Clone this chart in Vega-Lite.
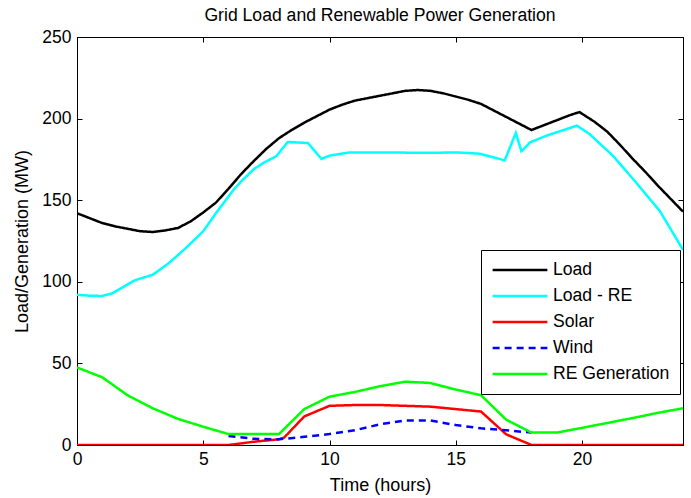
{
  "$schema": "https://vega.github.io/schema/vega-lite/v6.json",
  "width": 606,
  "height": 408,
  "autosize": {"type": "none"},
  "padding": {"left": 77, "top": 37, "right": 8, "bottom": 53},
  "background": "white",
  "title": {"text": "Grid Load and Renewable Power Generation", "fontSize": 17.6, "fontWeight": "normal", "font": "Liberation Sans", "color": "black", "offset": 3},
  "config": {
    "view": {"stroke": "black", "strokeWidth": 1},
    "axis": {"grid": false, "domainColor": "black", "tickColor": "black", "labelColor": "black", "titleColor": "black", "labelFont": "Liberation Sans", "titleFont": "Liberation Sans", "labelFontSize": 17.5, "titleFontSize": 18, "titleFontWeight": "normal", "tickSize": -5, "labelFlush": false}
  },
  "data": {"values": [
    {"series": "Load", "hour": 0, "value": 142},
    {"series": "Load", "hour": 0.5, "value": 139},
    {"series": "Load", "hour": 1, "value": 136},
    {"series": "Load", "hour": 1.5, "value": 134},
    {"series": "Load", "hour": 2, "value": 132.5},
    {"series": "Load", "hour": 2.5, "value": 131},
    {"series": "Load", "hour": 3, "value": 130.5},
    {"series": "Load", "hour": 3.5, "value": 131.5},
    {"series": "Load", "hour": 4, "value": 133},
    {"series": "Load", "hour": 4.5, "value": 137},
    {"series": "Load", "hour": 5, "value": 142.5},
    {"series": "Load", "hour": 5.5, "value": 148.5},
    {"series": "Load", "hour": 6, "value": 157},
    {"series": "Load", "hour": 6.5, "value": 166},
    {"series": "Load", "hour": 7, "value": 174},
    {"series": "Load", "hour": 7.5, "value": 181.5},
    {"series": "Load", "hour": 8, "value": 188},
    {"series": "Load", "hour": 8.5, "value": 193},
    {"series": "Load", "hour": 9, "value": 197.5},
    {"series": "Load", "hour": 9.5, "value": 201.5},
    {"series": "Load", "hour": 10, "value": 205.5},
    {"series": "Load", "hour": 10.5, "value": 208.5},
    {"series": "Load", "hour": 11, "value": 211},
    {"series": "Load", "hour": 11.5, "value": 212.5},
    {"series": "Load", "hour": 12, "value": 214},
    {"series": "Load", "hour": 12.5, "value": 215.5},
    {"series": "Load", "hour": 13, "value": 217},
    {"series": "Load", "hour": 13.5, "value": 217.5},
    {"series": "Load", "hour": 14, "value": 217},
    {"series": "Load", "hour": 14.5, "value": 215.5},
    {"series": "Load", "hour": 15, "value": 213.5},
    {"series": "Load", "hour": 15.5, "value": 211.5},
    {"series": "Load", "hour": 16, "value": 209},
    {"series": "Load", "hour": 16.5, "value": 205},
    {"series": "Load", "hour": 17, "value": 201},
    {"series": "Load", "hour": 17.5, "value": 197},
    {"series": "Load", "hour": 18, "value": 193},
    {"series": "Load", "hour": 18.5, "value": 196},
    {"series": "Load", "hour": 19, "value": 199},
    {"series": "Load", "hour": 19.5, "value": 202},
    {"series": "Load", "hour": 19.9, "value": 204},
    {"series": "Load", "hour": 20.5, "value": 198},
    {"series": "Load", "hour": 21, "value": 192},
    {"series": "Load", "hour": 21.5, "value": 184},
    {"series": "Load", "hour": 22, "value": 175.5},
    {"series": "Load", "hour": 22.5, "value": 167.5},
    {"series": "Load", "hour": 23, "value": 159},
    {"series": "Load", "hour": 23.5, "value": 151},
    {"series": "Load", "hour": 24, "value": 143},
    {"series": "Load - RE", "hour": 0, "value": 92},
    {"series": "Load - RE", "hour": 0.5, "value": 91.5},
    {"series": "Load - RE", "hour": 1, "value": 91.3},
    {"series": "Load - RE", "hour": 1.4, "value": 93},
    {"series": "Load - RE", "hour": 1.8, "value": 96.5},
    {"series": "Load - RE", "hour": 2.3, "value": 101},
    {"series": "Load - RE", "hour": 3, "value": 104.3},
    {"series": "Load - RE", "hour": 3.6, "value": 111},
    {"series": "Load - RE", "hour": 4.3, "value": 120.5},
    {"series": "Load - RE", "hour": 5, "value": 131},
    {"series": "Load - RE", "hour": 5.5, "value": 142},
    {"series": "Load - RE", "hour": 6.2, "value": 156.4},
    {"series": "Load - RE", "hour": 6.5, "value": 161.5},
    {"series": "Load - RE", "hour": 7, "value": 169},
    {"series": "Load - RE", "hour": 7.4, "value": 173},
    {"series": "Load - RE", "hour": 7.9, "value": 177},
    {"series": "Load - RE", "hour": 8.1, "value": 181},
    {"series": "Load - RE", "hour": 8.35, "value": 185.7},
    {"series": "Load - RE", "hour": 9.15, "value": 185},
    {"series": "Load - RE", "hour": 9.68, "value": 175.3},
    {"series": "Load - RE", "hour": 10, "value": 177.3},
    {"series": "Load - RE", "hour": 10.8, "value": 179.3},
    {"series": "Load - RE", "hour": 12, "value": 179.3},
    {"series": "Load - RE", "hour": 14, "value": 179},
    {"series": "Load - RE", "hour": 15, "value": 179.3},
    {"series": "Load - RE", "hour": 15.95, "value": 178.5},
    {"series": "Load - RE", "hour": 16.94, "value": 174.4},
    {"series": "Load - RE", "hour": 17.38, "value": 191.2},
    {"series": "Load - RE", "hour": 17.6, "value": 180},
    {"series": "Load - RE", "hour": 17.95, "value": 185.5},
    {"series": "Load - RE", "hour": 18.6, "value": 189.6},
    {"series": "Load - RE", "hour": 19.8, "value": 195.7},
    {"series": "Load - RE", "hour": 20.3, "value": 190.5},
    {"series": "Load - RE", "hour": 21.24, "value": 177},
    {"series": "Load - RE", "hour": 22.16, "value": 160.5},
    {"series": "Load - RE", "hour": 23.09, "value": 143.2},
    {"series": "Load - RE", "hour": 23.88, "value": 122.7},
    {"series": "Load - RE", "hour": 24, "value": 119.5},
    {"series": "Solar", "hour": 0, "value": 0},
    {"series": "Solar", "hour": 1, "value": 0},
    {"series": "Solar", "hour": 2, "value": 0},
    {"series": "Solar", "hour": 3, "value": 0},
    {"series": "Solar", "hour": 4, "value": 0},
    {"series": "Solar", "hour": 5, "value": 0},
    {"series": "Solar", "hour": 6, "value": 0},
    {"series": "Solar", "hour": 6.5, "value": 1},
    {"series": "Solar", "hour": 7, "value": 2},
    {"series": "Solar", "hour": 8, "value": 3.5},
    {"series": "Solar", "hour": 8.2, "value": 4.5},
    {"series": "Solar", "hour": 9, "value": 17.5},
    {"series": "Solar", "hour": 10, "value": 24},
    {"series": "Solar", "hour": 11, "value": 24.5},
    {"series": "Solar", "hour": 12, "value": 24.5},
    {"series": "Solar", "hour": 13, "value": 24},
    {"series": "Solar", "hour": 14, "value": 23.5},
    {"series": "Solar", "hour": 15, "value": 22},
    {"series": "Solar", "hour": 16, "value": 20.5},
    {"series": "Solar", "hour": 17, "value": 6.5},
    {"series": "Solar", "hour": 18, "value": 0},
    {"series": "Solar", "hour": 19, "value": 0},
    {"series": "Solar", "hour": 20, "value": 0},
    {"series": "Solar", "hour": 21, "value": 0},
    {"series": "Solar", "hour": 22, "value": 0},
    {"series": "Solar", "hour": 23, "value": 0},
    {"series": "Solar", "hour": 24, "value": 0},
    {"series": "Wind", "hour": 6, "value": 5.5},
    {"series": "Wind", "hour": 7, "value": 3.8},
    {"series": "Wind", "hour": 8, "value": 3.5},
    {"series": "Wind", "hour": 9, "value": 5},
    {"series": "Wind", "hour": 10, "value": 6.7},
    {"series": "Wind", "hour": 11, "value": 9},
    {"series": "Wind", "hour": 12, "value": 12.7},
    {"series": "Wind", "hour": 13, "value": 15},
    {"series": "Wind", "hour": 14, "value": 15},
    {"series": "Wind", "hour": 15, "value": 12.2},
    {"series": "Wind", "hour": 16, "value": 10.2},
    {"series": "Wind", "hour": 17, "value": 9},
    {"series": "Wind", "hour": 18, "value": 7.6},
    {"series": "RE Generation", "hour": 0, "value": 47.5},
    {"series": "RE Generation", "hour": 1, "value": 41.5},
    {"series": "RE Generation", "hour": 2, "value": 30.5},
    {"series": "RE Generation", "hour": 3, "value": 22.5},
    {"series": "RE Generation", "hour": 4, "value": 16},
    {"series": "RE Generation", "hour": 5, "value": 11.2},
    {"series": "RE Generation", "hour": 6, "value": 6.7},
    {"series": "RE Generation", "hour": 7, "value": 6.7},
    {"series": "RE Generation", "hour": 8, "value": 6.7},
    {"series": "RE Generation", "hour": 9, "value": 22},
    {"series": "RE Generation", "hour": 10, "value": 29.6},
    {"series": "RE Generation", "hour": 11, "value": 32.5},
    {"series": "RE Generation", "hour": 12, "value": 36},
    {"series": "RE Generation", "hour": 13, "value": 38.8},
    {"series": "RE Generation", "hour": 14, "value": 38},
    {"series": "RE Generation", "hour": 15, "value": 34},
    {"series": "RE Generation", "hour": 16, "value": 30.5},
    {"series": "RE Generation", "hour": 17, "value": 15.5},
    {"series": "RE Generation", "hour": 18, "value": 7.6},
    {"series": "RE Generation", "hour": 19, "value": 7.6},
    {"series": "RE Generation", "hour": 20, "value": 10.5},
    {"series": "RE Generation", "hour": 21, "value": 13.5},
    {"series": "RE Generation", "hour": 22, "value": 16.5},
    {"series": "RE Generation", "hour": 23, "value": 19.7},
    {"series": "RE Generation", "hour": 24, "value": 22.5}
  ]},
  "layer": [
    {
      "mark": {"type": "line", "strokeWidth": 2.5, "clip": true},
      "encoding": {
        "x": {"field": "hour", "type": "quantitative", "scale": {"domain": [0, 24], "nice": false}, "axis": {"values": [0, 5, 10, 15, 20], "title": "Time (hours)", "labelPadding": 10, "titlePadding": 9}},
        "y": {"field": "value", "type": "quantitative", "scale": {"domain": [0, 250], "nice": false}, "axis": {"values": [0, 50, 100, 150, 200, 250], "title": "Load/Generation (MW)", "labelPadding": 11, "titlePadding": 10}},
        "color": {"field": "series", "type": "nominal", "sort": ["Load", "Load - RE", "Solar", "Wind", "RE Generation"],
          "scale": {"domain": ["Load", "Load - RE", "Solar", "Wind", "RE Generation"], "range": ["#000000", "#00FFFF", "#FF0000", "#0000FF", "#00FF00"]},
          "legend": {"title": null, "orient": "none", "legendX": 404, "legendY": 213, "strokeColor": "black", "fillColor": "white", "padding": 10, "symbolType": "stroke", "symbolSize": 3000, "symbolStrokeWidth": 2.5, "clipHeight": 20, "rowPadding": 6, "labelFont": "Liberation Sans", "labelFontSize": 17.6, "labelColor": "black", "labelOffset": 4, "cornerRadius": 0}},
        "strokeDash": {"field": "series", "type": "nominal", "sort": ["Load", "Load - RE", "Solar", "Wind", "RE Generation"],
          "scale": {"domain": ["Load", "Load - RE", "Solar", "Wind", "RE Generation"], "range": [[1, 0], [1, 0], [1, 0], [7, 5], [1, 0]]},
          "legend": {"title": null, "orient": "none", "legendX": 404, "legendY": 213, "strokeColor": "black", "fillColor": "white", "padding": 10, "symbolType": "stroke", "symbolSize": 3000, "symbolStrokeWidth": 2.5, "clipHeight": 20, "rowPadding": 6, "labelFont": "Liberation Sans", "labelFontSize": 17.6, "labelColor": "black", "labelOffset": 4, "cornerRadius": 0}}
      }
    },
    {
      "mark": {"type": "line", "strokeOpacity": 0},
      "encoding": {
        "x": {"field": "hour", "type": "quantitative", "axis": {"orient": "top", "values": [0, 5, 10, 15, 20], "labels": false, "title": null}},
        "y": {"field": "value", "type": "quantitative", "axis": {"orient": "right", "values": [0, 50, 100, 150, 200, 250], "labels": false, "title": null}},
        "detail": {"field": "series", "type": "nominal"}
      }
    }
  ],
  "resolve": {"axis": {"x": "independent", "y": "independent"}}
}
